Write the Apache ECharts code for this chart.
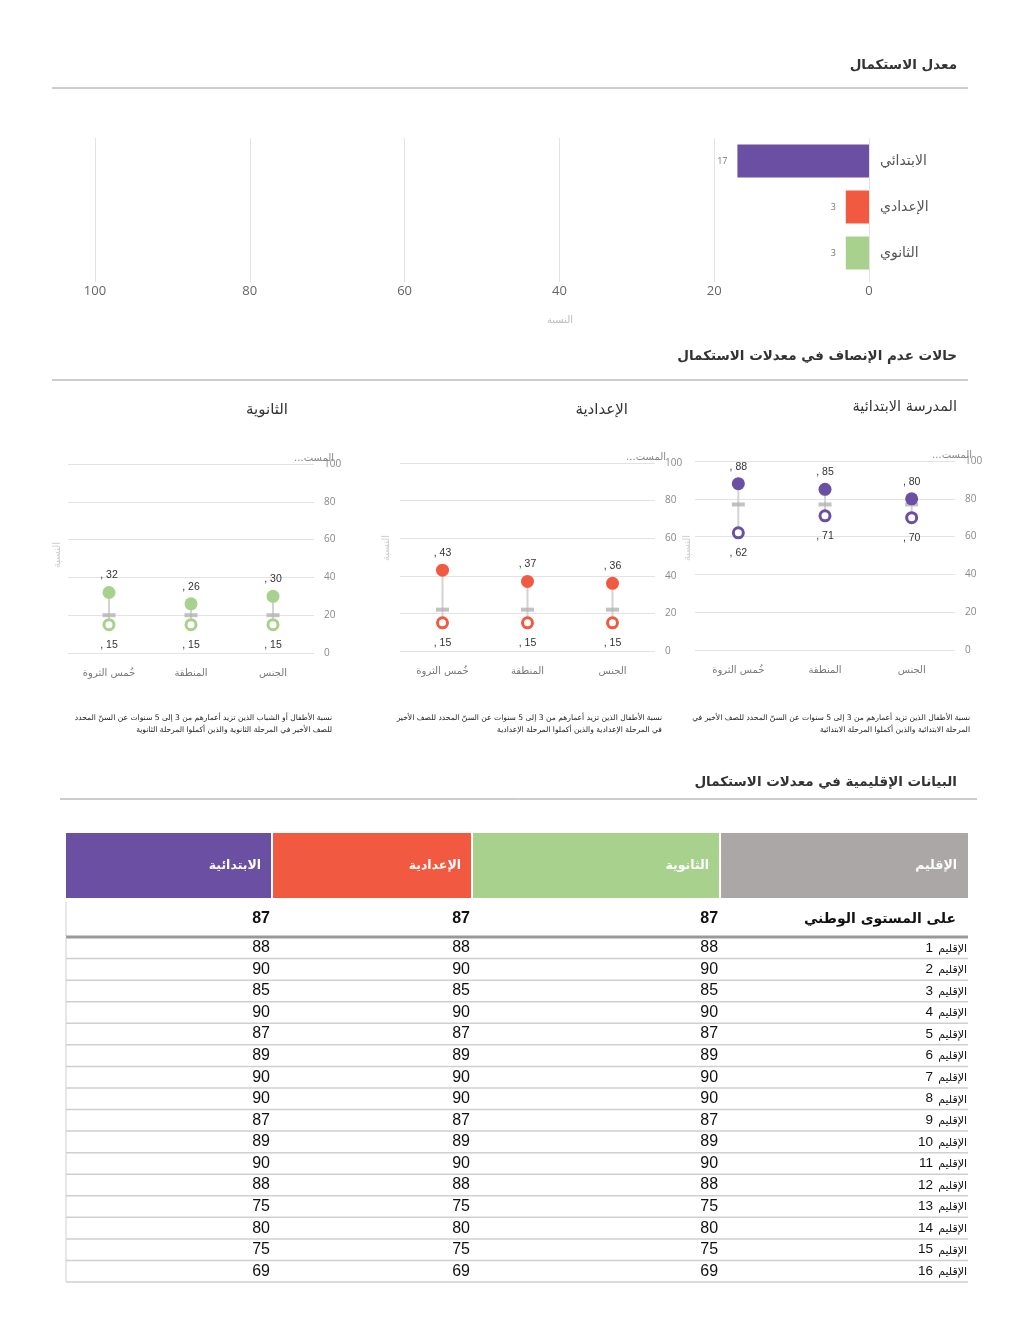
<!DOCTYPE html>
<html><head><meta charset="utf-8">
<script src="https://cdn.jsdelivr.net/npm/echarts/dist/echarts.min.js"></script>
<style>html,body{margin:0;padding:0;background:#fff}#c{width:1024px;height:1325px}</style>
</head><body><div id="c"></div><script>
// ---------- DATA ----------
const completionLevels = ['الابتدائي', 'الإعدادي', 'الثانوي'];
const completionRates = [17, 3, 3];
const rateTicks = { min: 0, max: 100, step: 20 };

const dimensions = ['الجنس', 'المنطقة', 'خُمس الثروة'];
const primaryBest = [80, 85, 88];
const primaryWorst = [70, 71, 62];
const primaryNational = [77, 77, 77];
const lowerBest = [36, 37, 43];
const lowerWorst = [15, 15, 15];
const lowerNational = [22, 22, 22];
const upperBest = [30, 26, 32];
const upperWorst = [15, 15, 15];
const upperNational = [20, 20, 20];

const tableHeaders = ['الإقليم', 'الثانوية', 'الإعدادية', 'الابتدائية'];
const nationalLabel = 'على المستوى الوطني';
const nationalUpper = 87, nationalLower = 87, nationalPrimary = 87;
const regions = ['الإقليم 1','الإقليم 2','الإقليم 3','الإقليم 4','الإقليم 5','الإقليم 6','الإقليم 7','الإقليم 8',
  'الإقليم 9','الإقليم 10','الإقليم 11','الإقليم 12','الإقليم 13','الإقليم 14','الإقليم 15','الإقليم 16'];
const regionUpper   = [88, 90, 85, 90, 87, 89, 90, 90, 87, 89, 90, 88, 75, 80, 75, 69];
const regionLower   = [88, 90, 85, 90, 87, 89, 90, 90, 87, 89, 90, 88, 75, 80, 75, 69];
const regionPrimary = [88, 90, 85, 90, 87, 89, 90, 90, 87, 89, 90, 88, 75, 80, 75, 69];

// ---------- STYLE ----------
const COL = { primary: '#6a4fa3', lower: '#f15a40', upper: '#a9d18e', region: '#aba7a6' };
const AR = "'DejaVu Sans', 'Noto Sans', sans-serif";
const LIB = "'Liberation Sans', 'DejaVu Sans', sans-serif";
const barColors = [COL.primary, COL.lower, COL.upper];
const colRight = [1, 0.7251, 0.4501, 0.2284];
const colLeft  = [0.7251, 0.4501, 0.2284, 0];
const headerColors = [COL.region, COL.upper, COL.lower, COL.primary];
const REG_AR_FONT = '11px ' + AR;
const REG_NUM_FONT = '13.5px ' + LIB;
const measureCtx = document.createElement('canvas').getContext('2d');
function textWidth(t, font) { measureCtx.font = font; return measureCtx.measureText(t).width; }

const chart = echarts.init(document.getElementById('c'), null, { renderer: 'canvas' });

const panels = [
  { best: primaryBest, worst: primaryWorst, nat: primaryNational, color: COL.primary, left: 695, right: 69, top: 461, base: 650 },
  { best: lowerBest, worst: lowerWorst, nat: lowerNational, color: COL.lower, left: 400, right: 369, top: 463, base: 651 },
  { best: upperBest, worst: upperWorst, nat: upperNational, color: COL.upper, left: 68, right: 710, top: 464, base: 653 }
];

const grids = [{ left: 95, right: 155, top: 138, bottom: 1325 - 276 }];
const xAxes = [{
  gridIndex: 0, type: 'value', inverse: true, min: rateTicks.min, max: rateTicks.max, interval: rateTicks.step,
  axisLine: { show: false },
  axisTick: { show: true, length: 6, lineStyle: { color: '#e3e3e3' } },
  splitLine: { show: true, lineStyle: { color: '#e3e3e3' } },
  axisLabel: { color: '#666', fontSize: 13, margin: 9, fontFamily: "'Open Sans', sans-serif" }
}];
const yAxes = [{
  gridIndex: 0, type: 'category', data: completionLevels, inverse: true, position: 'right',
  axisLine: { show: false }, axisTick: { show: false },
  axisLabel: { color: '#555', fontSize: 14, margin: 11, fontFamily: AR }
}];
const series = [{
  type: 'bar', xAxisIndex: 0, yAxisIndex: 0, barWidth: 33,
  data: completionRates.map((v, i) => ({ value: v, itemStyle: { color: barColors[i] } })),
  label: { show: true, position: 'left', distance: 10, color: '#777', fontSize: 9, fontFamily: "'Open Sans', sans-serif" }
}];

const dotLabel = { color: '#333', fontSize: 10.5, fontFamily: LIB };
panels.forEach((p, k) => {
  const gi = k + 1;
  grids.push({ left: p.left, right: p.right, top: p.top, bottom: 1325 - p.base });
  xAxes.push({
    gridIndex: gi, type: 'category', data: dimensions, inverse: true,
    axisLine: { show: false }, axisTick: { show: false },
    axisLabel: { color: '#777', fontSize: 10, margin: 15, fontFamily: AR }
  });
  yAxes.push({
    gridIndex: gi, type: 'value', min: 0, max: 100, interval: 20, position: 'right',
    axisLine: { show: false }, axisTick: { show: false },
    splitLine: { lineStyle: { color: '#e3e3e3' } },
    axisLabel: { color: '#888', fontSize: 10, margin: 10, fontFamily: "'Open Sans', sans-serif" }
  });
  series.push({
    type: 'custom', xAxisIndex: gi, yAxisIndex: gi, z: 1,
    data: dimensions.map((d, i) => [i, p.worst[i], p.best[i]]),
    renderItem: (params, api) => {
      const a = api.coord([api.value(0), api.value(1)]);
      const b = api.coord([api.value(0), api.value(2)]);
      return { type: 'line', shape: { x1: a[0], y1: a[1], x2: b[0], y2: b[1] }, style: { stroke: '#d3d3d3', lineWidth: 2 } };
    }
  });
  series.push({
    type: 'scatter', xAxisIndex: gi, yAxisIndex: gi, z: 2, symbol: 'rect', symbolSize: [13, 4],
    itemStyle: { color: '#b3b3b3' },
    data: dimensions.map((d, i) => [i, p.nat[i]])
  });
  series.push({
    type: 'scatter', xAxisIndex: gi, yAxisIndex: gi, z: 3, symbolSize: 13,
    itemStyle: { color: p.color, opacity: 1 },
    data: dimensions.map((d, i) => [i, p.best[i]]),
    label: Object.assign({ show: true, position: 'top', distance: 5, formatter: q => ', ' + q.value[1] }, dotLabel)
  });
  series.push({
    type: 'scatter', xAxisIndex: gi, yAxisIndex: gi, z: 3, symbolSize: 10,
    itemStyle: { color: '#fff', borderColor: p.color, borderWidth: 3, opacity: 1 },
    data: dimensions.map((d, i) => [i, p.worst[i]]),
    label: Object.assign({ show: true, position: 'bottom', distance: 8, formatter: q => ', ' + q.value[1] }, dotLabel)
  });
});

// ---------- TABLE ----------
function txt(text, x, y, align, font, fill) {
  return { type: 'text', style: { text: String(text), x: x, y: y, align: align, verticalAlign: 'middle', textAlign: align, textVerticalAlign: 'middle', font: font, fill: fill } };
}
grids.push({ left: 66, right: 56, top: 833, height: 65 });
grids.push({ left: 66, right: 56, top: 902, height: 34 });
grids.push({ left: 66, right: 56, top: 937, height: 345 });
[4, 5, 6].forEach(gi => xAxes.push({ gridIndex: gi, type: 'value', min: 0, max: 1, show: false }));
yAxes.push({ gridIndex: 4, type: 'category', data: ['h'], show: false });
yAxes.push({ gridIndex: 5, type: 'category', data: [nationalLabel], show: false });
yAxes.push({ gridIndex: 6, type: 'category', data: regions, inverse: true, show: false });

series.push({
  type: 'custom', xAxisIndex: 4, yAxisIndex: 4,
  data: tableHeaders.map((h, j) => [j, 0]),
  renderItem: (params, api) => {
    const j = params.dataIndex;
    const r = api.coord([colRight[j], 0]);
    const l = api.coord([colLeft[j], 0]);
    const h = api.size([0, 1])[1];
    const x0 = l[0] + (j < 3 ? 1 : 0), x1 = r[0] - (j > 0 ? 1 : 0);
    return { type: 'group', children: [
      { type: 'rect', shape: { x: x0, y: r[1] - h / 2, width: x1 - x0, height: h }, style: { fill: headerColors[j] } },
      txt(tableHeaders[j], r[0] - 11, r[1], 'right', "bold 12.5px " + AR, '#fff')
    ] };
  }
});
series.push({
  type: 'custom', xAxisIndex: 5, yAxisIndex: 5,
  data: [[0, 0]],
  renderItem: (params, api) => {
    const c = api.coord([0, 0]);
    const h = api.size([0, 1])[1];
    const right = api.coord([1, 0])[0];
    const vals = [nationalUpper, nationalLower, nationalPrimary];
    const ch = [
      { type: 'line', shape: { x1: c[0], y1: c[1] - h / 2, x2: c[0], y2: c[1] + h / 2 }, style: { stroke: '#d0d0d0', lineWidth: 1 } },
      { type: 'line', shape: { x1: c[0], y1: c[1] + h / 2 + 1, x2: right, y2: c[1] + h / 2 + 1 }, style: { stroke: '#999', lineWidth: 3 } },
      txt(nationalLabel, right - 12, c[1], 'right', "bold 14px " + AR, '#111')
    ];
    vals.forEach((v, k) => {
      const x = api.coord([colRight[k + 1], 0])[0];
      ch.push(txt(v, x - 2, c[1], 'right', "bold 16px " + LIB, '#111'));
    });
    return { type: 'group', children: ch };
  }
});
series.push({
  type: 'custom', xAxisIndex: 6, yAxisIndex: 6,
  data: regions.map((r, i) => [0, i]),
  renderItem: (params, api) => {
    const i = params.dataIndex;
    const c = api.coord([0, i]);
    const h = api.size([0, 1])[1];
    const right = api.coord([1, i])[0];
    const vals = [regionUpper[i], regionLower[i], regionPrimary[i]];
    const parts = regions[i].split(' ');
    const wAr = textWidth(parts[0], REG_AR_FONT);
    const ch = [
      { type: 'line', shape: { x1: c[0], y1: c[1] - h / 2, x2: c[0], y2: c[1] + h / 2 }, style: { stroke: '#d0d0d0', lineWidth: 1 } },
      { type: 'line', shape: { x1: c[0], y1: c[1] + h / 2, x2: right, y2: c[1] + h / 2 }, style: { stroke: '#cfcfcf', lineWidth: 1.5 } },
      txt(parts[0], right - 1, c[1] + 1, 'right', REG_AR_FONT, '#111'),
      txt(parts[1], right - 1 - wAr - 5, c[1], 'right', REG_NUM_FONT, '#111')
    ];
    vals.forEach((v, k) => {
      const x = api.coord([colRight[k + 1], i])[0];
      ch.push(txt(v, x - 2, c[1], 'right', "16px " + LIB, '#111'));
    });
    return { type: 'group', children: ch };
  }
});

// ---------- TEXT / DECOR ----------
function gtext(text, x, y, align, font, fill, extra) {
  return Object.assign({ type: 'text', x: x, y: y, style: { text: text, align: align, verticalAlign: 'middle', textAlign: align, textVerticalAlign: 'middle', font: font, fill: fill } }, extra || {});
}
function gline(x1, y1, x2, y2, color, w) {
  return { type: 'line', shape: { x1: x1, y1: y1, x2: x2, y2: y2 }, style: { stroke: color, lineWidth: w } };
}
const FN = '7.6px ' + AR;
const graphic = [
  gtext('معدل الاستكمال', 957, 65, 'right', 'bold 13.5px ' + AR, '#333'),
  gline(52, 88, 968, 88, '#9a9a9a', 1),
  gtext('النسبة', 560, 320, 'center', '10px ' + AR, '#bbb'),
  gtext('حالات عدم الإنصاف في معدلات الاستكمال', 957, 356, 'right', 'bold 13.5px ' + AR, '#333'),
  gline(52, 380, 968, 380, '#9a9a9a', 1),
  gtext('المدرسة الابتدائية', 957, 407, 'right', '14.5px ' + AR, '#333'),
  gtext('الإعدادية', 628, 410, 'right', '15px ' + AR, '#333'),
  gtext('الثانوية', 288, 410, 'right', '15px ' + AR, '#333'),
  gtext('...المست', 972, 455, 'right', '10px ' + AR, '#888'),
  gtext('...المست', 666, 457, 'right', '10px ' + AR, '#888'),
  gtext('...المست', 334, 458, 'right', '10px ' + AR, '#888'),
  gtext('النسبة', 687, 548, 'center', '10px ' + AR, '#ccc', { rotation: Math.PI / 2 }),
  gtext('النسبة', 386, 548, 'center', '10px ' + AR, '#ccc', { rotation: Math.PI / 2 }),
  gtext('النسبة', 57, 555, 'center', '10px ' + AR, '#ccc', { rotation: Math.PI / 2 }),
  gtext('نسبة الأطفال الذين تزيد أعمارهم من 3 إلى 5 سنوات عن السنّ المحدد للصف الأخير في', 970, 718, 'right', FN, '#222'),
  gtext('المرحلة الابتدائية والذين أكملوا المرحلة الابتدائية', 970, 730, 'right', FN, '#222'),
  gtext('نسبة الأطفال الذين تزيد أعمارهم من 3 إلى 5 سنوات عن السنّ المحدد للصف الأخير', 662, 718, 'right', FN, '#222'),
  gtext('في المرحلة الإعدادية والذين أكملوا المرحلة الإعدادية', 662, 730, 'right', FN, '#222'),
  gtext('نسبة الأطفال أو الشباب الذين تزيد أعمارهم من 3 إلى 5 سنوات عن السنّ المحدد', 332, 718, 'right', FN, '#222'),
  gtext('للصف الأخير في المرحلة الثانوية والذين أكملوا المرحلة الثانوية', 332, 730, 'right', FN, '#222'),
  gtext('البيانات الإقليمية في معدلات الاستكمال', 957, 782, 'right', 'bold 13.5px ' + AR, '#333'),
  gline(60, 799, 977, 799, '#9a9a9a', 1)
];

chart.setOption({
  animation: false,
  backgroundColor: '#fff',
  grid: grids,
  xAxis: xAxes,
  yAxis: yAxes,
  series: series,
  graphic: graphic
});
</script></body></html>
